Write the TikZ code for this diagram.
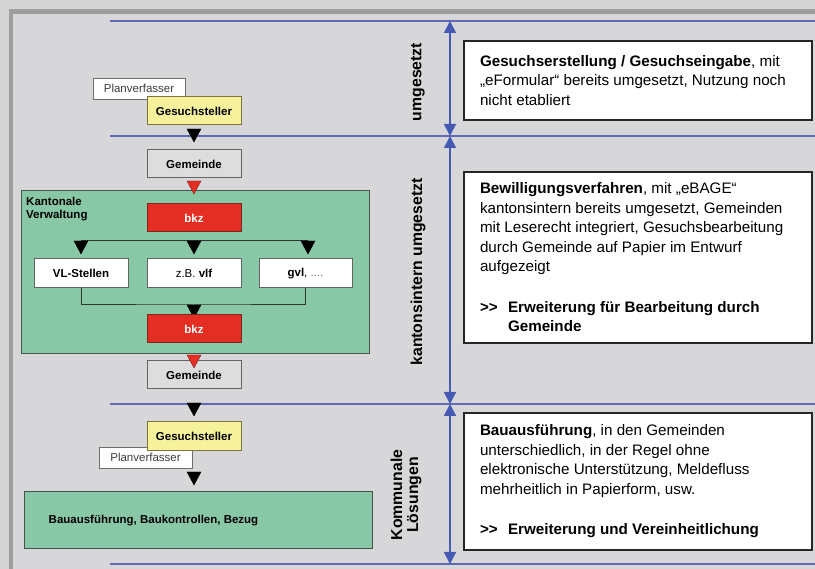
\documentclass[tikz,border=0pt]{standalone}
\usepackage{fontspec}
\setmainfont{Liberation Sans}
\usetikzlibrary{%
        arrows.meta,
        positioning}

\definecolor{bgouter}{RGB}{212,212,212}
\definecolor{bginner}{RGB}{215,215,217}
\definecolor{framegray}{RGB}{158,158,160}
\definecolor{tierblue}{RGB}{95,105,180}
\definecolor{arrowblue}{RGB}{70,90,180}
\definecolor{areagreen}{RGB}{137,200,166}
\definecolor{areaframe}{RGB}{70,85,75}
\definecolor{gemfill}{RGB}{221,221,221}
\definecolor{gemframe}{RGB}{100,100,100}
\definecolor{gsfill}{RGB}{246,241,155}
\definecolor{gsframe}{RGB}{125,115,60}
\definecolor{bkzred}{RGB}{228,45,35}
\definecolor{bkzframe}{RGB}{120,40,30}
\definecolor{planframe}{RGB}{110,110,110}
\definecolor{planfont}{RGB}{60,60,60}

\newcommand{\gtgt}{\textbf{>{}>}}

\tikzset{%
    box/.style={draw=#1, line width=1pt, minimum width=94pt,
        minimum height=28pt, inner sep=0pt,
        font=\fontsize{11.5}{13}\selectfont\bfseries},
    gemeinde/.style={box=gemframe, fill=gemfill},
    gesuch/.style={box=gsframe, fill=gsfill},
    bkz/.style={box=bkzframe, fill=bkzred, text=white},
    stelle/.style={box=gemframe, fill=white, minimum height=29pt,
        font=\fontsize{11.5}{13}\selectfont},
    planer/.style={draw=planframe, fill=white, line width=0.8pt,
        minimum width=92pt, minimum height=21pt, inner sep=0pt,
        text=planfont, font=\fontsize{11.5}{13}\selectfont},
    area/.style={draw=areaframe, fill=areagreen, line width=1pt,
        inner sep=0pt, minimum width=348pt},
    desc/.style={draw=black!85, fill=white, line width=1.5pt,
        text width=316pt, inner xsep=16pt, inner ysep=0pt,
        align=flush left, font=\fontsize{15.2}{19.5}\selectfont},
    tier/.style={rotate=90, align=center,
        font=\fontsize{15.8}{16}\selectfont\bfseries},
    tierline/.style={draw=tierblue, line width=1.6pt},
    tierarrow/.style={draw=arrowblue, line width=1.8pt,
        {Triangle[width=12pt,length=12pt]}-{Triangle[width=12pt,length=12pt]}},
    branch/.style={draw=black!80, line width=1pt},
    downtri/.pic={\filldraw[#1] (-7,0) -- (7,0) -- (0,13) -- cycle;}
}

\begin{document}
\begin{tikzpicture}[x=1pt, y=-1pt]

    \fill[bgouter] (0, 0) rectangle (815, 569);
    \fill[framegray] (9, 9) rectangle (815, 14);
    \fill[framegray] (9, 9) rectangle (13, 569);
    \fill[bginner] (13, 14) rectangle (815, 569);
    \useasboundingbox (0, 0) rectangle (815, 569);

    % phases
    \foreach \y in {21, 136, 404, 564}{%
        \draw[tierline] (110, \y) -- (815, \y);
    }
    \coordinate (t0) at (450, 21);
    \coordinate (t1) at (450, 136);
    \coordinate (t2) at (450, 404);
    \coordinate (t3) at (450, 564);
    \draw[tierarrow] (t0) -- (t1);
    \draw[tierarrow] (t1) -- (t2);
    \draw[tierarrow] (t2) -- (t3);

    \node[tier] (labA) at (418, 82) {umgesetzt};
    \node[tier] (labB) at (418, 272) {kantonsintern umgesetzt};
    \node[tier] (labC) at (406, 495) {Kommunale\\Lösungen};

    \node[desc, minimum height=79pt] (descA) at (638, 80.5) {%
        \textbf{Gesuchserstellung / Gesuchseingabe}, mit\\
        „eFormular“ bereits umgesetzt, Nutzung noch\\
        nicht etabliert};
    \node[desc, minimum height=171pt] (descB) at (638, 257.5) {%
        \textbf{Bewilligungsverfahren}, mit „eBAGE“\\
        kantonsintern bereits umgesetzt, Gemeinden\\
        mit Leserecht integriert, Gesuchsbearbeitung\\
        durch Gemeinde auf Papier im Entwurf\\
        aufgezeigt\\[21pt]
        \makebox[28pt][l]{\gtgt}\textbf{Erweiterung für Bearbeitung durch}\\
        \hspace*{28pt}\textbf{Gemeinde}};
    \node[desc, minimum height=137pt] (descC) at (638, 481.5) {%
        \textbf{Bauausführung}, in den Gemeinden\\
        unterschiedlich, in der Regel ohne\\
        elektronische Unterstützung, Meldefluss\\
        mehrheitlich in Papierform, usw.\\[21pt]
        \makebox[28pt][l]{\gtgt}\textbf{Erweiterung und Vereinheitlichung}};

    % Gesuch
    \node[planer] (planA) at (139, 88.5) {Planverfasser};
    \node[gesuch] (gsA) at (194, 111) {Gesuchsteller};
    \path (194, 129) pic {downtri=black};
    \node[gemeinde] (gemA) at (194, 164) {Gemeinde};

    % Kanton
    \node[area, minimum height=163pt] (kanton) at (195, 272.5) {};
    \path (194, 181) pic {downtri={fill=bkzred, draw=bkzframe}};
    \node[anchor=north west, inner sep=0pt, align=left,
        font=\fontsize{11.5}{13}\selectfont\bfseries] (kantonlabel)
        at (26, 197) {Kantonale\\Verwaltung};
    \node[bkz] (bkzA) at (194, 218) {bkz};
    \node[stelle] (vl) at (81, 273.5) {\textbf{VL-Stellen}};
    \node[stelle] (vlf) at (194, 273.5) {z.B. \textbf{vlf}};
    \node[stelle, minimum width=93pt] (gvl) at (305.5, 273.5)
        {\textbf{gvl}, \textcolor{black!55}{....}};
    \coordinate (splitL) at (81, 241);
    \coordinate (splitR) at (308, 241);
    \draw[branch] (splitL) -- (splitR);
    \path (splitL) pic {downtri=black}
          (bkzA |- splitL) pic {downtri=black}
          (splitR) pic {downtri=black};
    \coordinate (joinM) at (194, 305);
    \draw[branch] (vl.south) |- (joinM) -| (gvl.south);
    \path (joinM) pic {downtri=black};
    \node[bkz] (bkzB) at (194, 329) {bkz};

    % Gemeinde
    \node[gemeinde] (gemB) at (194, 375) {Gemeinde};
    \path (194, 355) pic {downtri={fill=bkzred, draw=bkzframe}};
    \path (194, 403) pic {downtri=black};
    \node[planer, minimum width=93pt] (planB) at (145.5, 457.5) {Planverfasser};
    \node[gesuch, minimum height=29pt] (gsB) at (194, 436.5) {Gesuchsteller};
    \path (194, 472) pic {downtri=black};
    \node[area, minimum height=57pt] (bau) at (198, 520.5) {};
    \node[anchor=west, inner sep=0pt,
        font=\fontsize{11.5}{13}\selectfont\bfseries, xshift=25pt] (bautext)
        at (bau.west) {Bauausführung, Baukontrollen, Bezug};

\end{tikzpicture}
\end{document}
